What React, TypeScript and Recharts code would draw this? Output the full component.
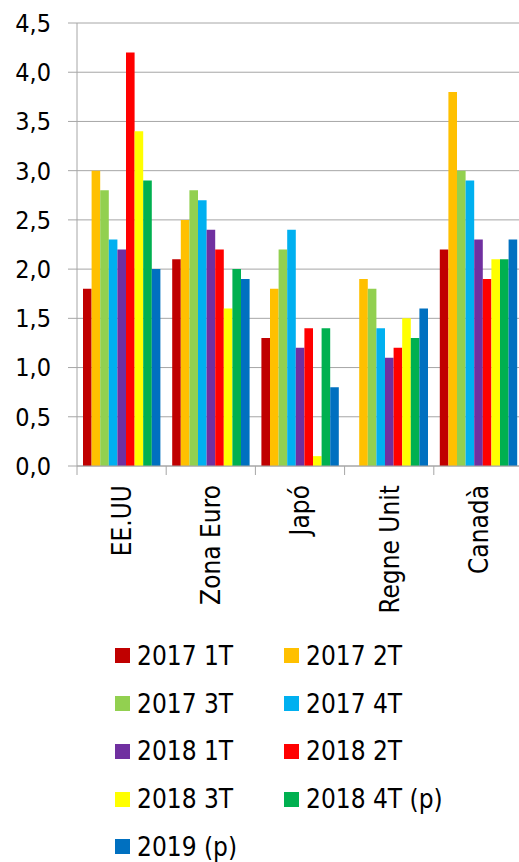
import React from "react";
import { BarChart, Bar, XAxis, YAxis, CartesianGrid, Legend } from "recharts";

const categories = ["EE.UU", "Zona Euro", "Japó", "Regne Unit", "Canadà"];
const seriesNames = [
  "2017 1T",
  "2017 2T",
  "2017 3T",
  "2017 4T",
  "2018 1T",
  "2018 2T",
  "2018 3T",
  "2018 4T (p)",
  "2019 (p)",
];
const seriesColors = [
  "#C00000",
  "#FFC000",
  "#92D050",
  "#00B0F0",
  "#7030A0",
  "#FF0000",
  "#FFFF00",
  "#00B050",
  "#0070C0",
];
const s2017q1 = [1.8, 2.1, 1.3, null, 2.2];
const s2017q2 = [3.0, 2.5, 1.8, 1.9, 3.8];
const s2017q3 = [2.8, 2.8, 2.2, 1.8, 3.0];
const s2017q4 = [2.3, 2.7, 2.4, 1.4, 2.9];
const s2018q1 = [2.2, 2.4, 1.2, 1.1, 2.3];
const s2018q2 = [4.2, 2.2, 1.4, 1.2, 1.9];
const s2018q3 = [3.4, 1.6, 0.1, 1.5, 2.1];
const s2018q4 = [2.9, 2.0, 1.4, 1.3, 2.1];
const s2019 = [2.0, 1.9, 0.8, 1.6, 2.3];
const yTicks = [0, 0.5, 1, 1.5, 2, 2.5, 3, 3.5, 4, 4.5];

const seriesValues = [s2017q1, s2017q2, s2017q3, s2017q4, s2018q1, s2018q2, s2018q3, s2018q4, s2019];

const data = categories.map((c, i) => {
  const row: Record<string, any> = { name: c };
  seriesNames.forEach((s, j) => {
    row[s] = seriesValues[j][i];
  });
  return row;
});

const FONT = "'DejaVu Sans Condensed', 'Open Sans', sans-serif";
const GRAY = "#a6a6a6";

const XTick = (props: any) => {
  const { x, y, payload, width, visibleTicksCount, index } = props;
  const band = width / visibleTicksCount;
  return (
    <g>
      <line x1={x - band / 2} y1={y} x2={x - band / 2} y2={y + 9} stroke={GRAY} strokeWidth={1} />
      {index === visibleTicksCount - 1 && (
        <line x1={x + band / 2} y1={y} x2={x + band / 2} y2={y + 9} stroke={GRAY} strokeWidth={1} />
      )}
      <text
        transform={`translate(${x},${y + 19}) rotate(-90)`}
        textAnchor="end"
        dy="0.36em"
        fontFamily={FONT}
        fontSize={26}
        fill="#000"
      >
        {payload.value}
      </text>
    </g>
  );
};

const LegendContent = () => (
  <div
    style={{
      display: "grid",
      gridTemplateColumns: "169px 169px",
      fontFamily: FONT,
      fontSize: 26,
      color: "#000",
    }}
  >
    {seriesNames.map((s, i) => (
      <div key={s} style={{ height: 47.75, display: "flex", alignItems: "center" }}>
        <span
          style={{
            display: "inline-block",
            width: 15,
            height: 15,
            background: seriesColors[i],
            marginRight: 7,
          }}
        />
        <span style={{ lineHeight: 1 }}>{s}</span>
      </div>
    ))}
  </div>
);

export default function App() {
  return (
    <div
      style={{
        position: "fixed",
        left: 0,
        top: 0,
        width: 519,
        height: 862,
        overflow: "hidden",
        background: "#fff",
      }}
    >
      <BarChart
        width={523}
        height={862}
        data={data}
        margin={{ top: 23, right: 0, bottom: 0, left: 0 }}
        barGap={0}
        barSize={8.6}
      >
        <CartesianGrid vertical={false} stroke={GRAY} strokeWidth={1} />
        <XAxis
          dataKey="name"
          type="category"
          height={396}
          tickLine={false}
          tickSize={0}
          tickMargin={0}
          axisLine={{ stroke: GRAY, strokeWidth: 1 }}
          tick={<XTick />}
          interval={0}
        />
        <YAxis
          width={77}
          domain={[0, 4.5]}
          ticks={yTicks}
          interval={0}
          tickSize={9}
          tickMargin={17}
          axisLine={{ stroke: GRAY, strokeWidth: 1 }}
          tickLine={{ stroke: GRAY, strokeWidth: 1 }}
          tick={{ fontFamily: FONT, fontSize: 25, fill: "#000" }}
          tickFormatter={(v: number) => v.toFixed(1).replace(".", ",")}
        />
        <Legend
          layout="horizontal"
          verticalAlign="middle"
          align="center"
          wrapperStyle={{ left: 115, top: 632, width: 340 }}
          content={<LegendContent />}
        />
        {seriesNames.map((s, i) => (
          <Bar key={s} dataKey={s} fill={seriesColors[i]} isAnimationActive={false} />
        ))}
      </BarChart>
    </div>
  );
}
